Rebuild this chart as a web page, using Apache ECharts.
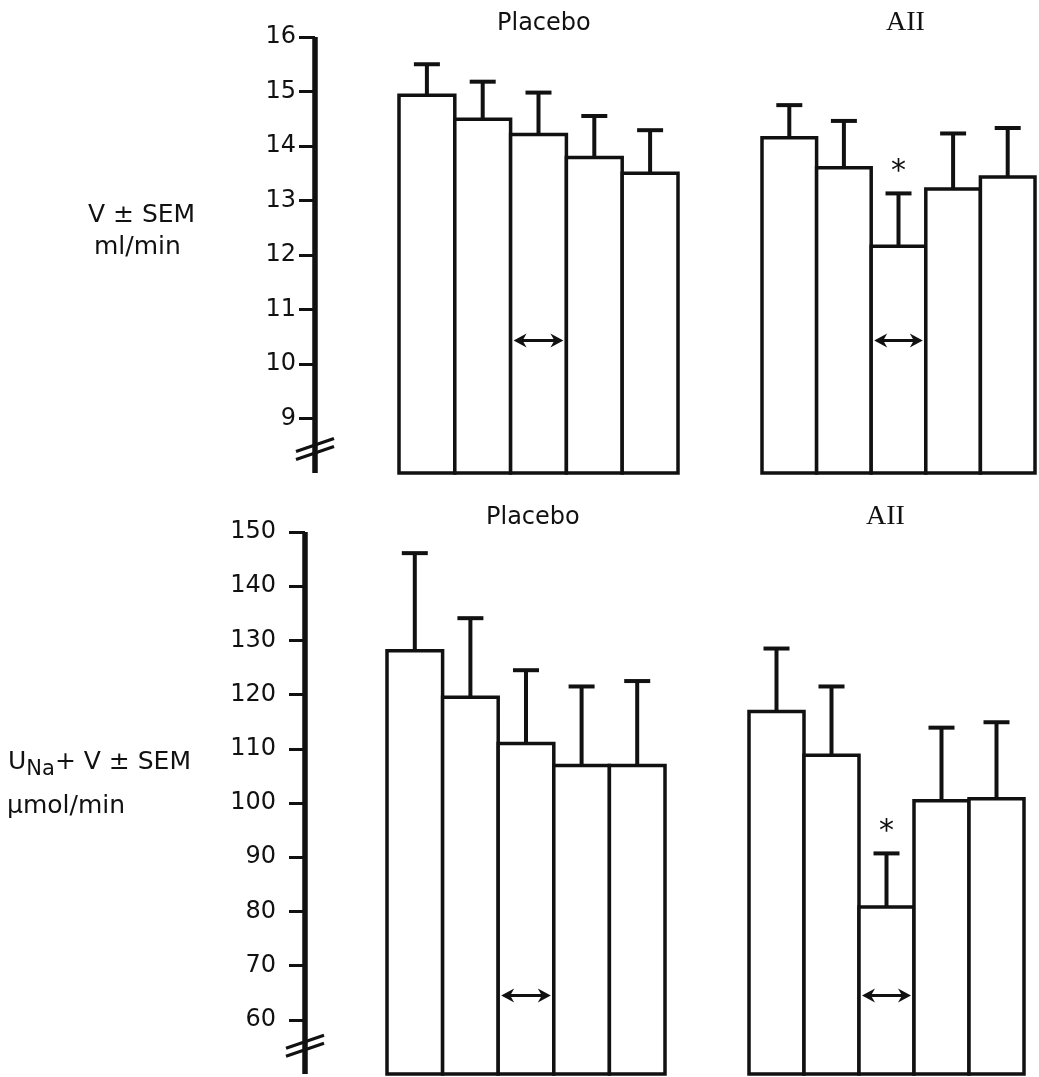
<!DOCTYPE html>
<html>
<head>
<meta charset="utf-8">
<script src="https://cdn.jsdelivr.net/npm/echarts@6/dist/echarts.min.js"></script>
<style>
  html, body { margin: 0; padding: 0; background: #fff; }
  #chart { width: 1039px; height: 1077px; }
</style>
</head>
<body>
<div id="chart"></div>
<script>
// Five consecutive clearance periods per infusion
const periods = ['1', '2', '3', '4', '5'];

// Urine flow V (ml/min), mean and SEM
const vPlacebo    = [14.93, 14.49, 14.21, 13.79, 13.50];
const vPlaceboSem = [0.57, 0.69, 0.77, 0.76, 0.79];
const vAII        = [14.15, 13.60, 12.16, 13.21, 13.43];
const vAIISem     = [0.60, 0.86, 0.97, 1.02, 0.90];

// Sodium excretion UNa·V (µmol/min), mean and SEM
const naPlacebo    = [128.1, 119.5, 111.0, 106.9, 106.9];
const naPlaceboSem = [18.0, 14.6, 13.5, 14.6, 15.6];
const naAII        = [116.9, 108.8, 80.8, 100.4, 100.8];
const naAIISem     = [11.6, 12.7, 9.9, 13.5, 14.1];

// Significant difference from baseline
const sigPlacebo = [0, 0, 0, 0, 0];
const sigAII     = [0, 0, 1, 0, 0];

// Infusion period and the level of its double arrow
const infusionPeriod = 2;
const vArrowLevel  = 10.43;
const naArrowLevel = 64.5;

// Axis ranges and labelled ticks
const vMin = 8,  vMax = 16,  vStep = 1;
const naMin = 50, naMax = 150, naStep = 10;
const vTicks  = [9, 10, 11, 12, 13, 14, 15, 16];
const naTicks = [60, 70, 80, 90, 100, 110, 120, 130, 140, 150];

const groupTitles = ['Placebo', 'AII'];

const INK = '#111';
const LABEL_FONT = 'DejaVu Sans';

// panel geometry: placebo and AII grids of the upper and lower panel
const grids = [
  { left: 399, top: 37,  width: 279, height: 436 },
  { left: 762, top: 37,  width: 273, height: 436 },
  { left: 387, top: 532, width: 278, height: 542 },
  { left: 749, top: 532, width: 275, height: 542 }
];
const axisX = [315, 305];       // x of the drawn value axes (upper, lower)
const labelMargin = [19, 29];   // label distance from each value axis

function mkYAxis(gi, min, max, step, ticks, visible, axisPos, margin) {
  const ax = {
    type: 'value', gridIndex: gi, min: min, max: max, interval: step,
    splitLine: { show: false }
  };
  if (!visible) {
    ax.show = false;
    return ax;
  }
  ax.offset = grids[gi].left - axisPos;
  ax.axisLine = { show: true, onZero: false, lineStyle: { color: INK, width: 5.5, cap: 'butt' } };
  ax.axisTick = { show: true, inside: false, length: 16, customValues: ticks,
                  lineStyle: { color: INK, width: 3 } };
  ax.axisLabel = { show: true, customValues: ticks, margin: margin, color: INK,
                   fontFamily: LABEL_FONT, fontSize: 24 };
  return ax;
}

// open rectangle bar standing on the bottom of its grid
function barItem(params, api) {
  const top = api.coord([api.value(0), api.value(1)]);
  const w = api.size([1, 0])[0];
  const bottom = params.coordSys.y + params.coordSys.height;
  return {
    type: 'rect',
    shape: { x: top[0] - w / 2, y: top[1], width: w, height: bottom - top[1] },
    style: { fill: '#fff', stroke: INK, lineWidth: 3.5 }
  };
}

// upward SEM whisker with cap, and an asterisk for significant periods
function errorBarItem(params, api) {
  const x = api.value(0), m = api.value(1), s = api.value(2), star = api.value(3);
  const base = api.coord([x, m]);
  const tip = api.coord([x, m + s]);
  const capHalf = 13;
  const st = { stroke: INK, lineWidth: 4 };
  const children = [
    { type: 'line', shape: { x1: base[0], y1: base[1], x2: tip[0], y2: tip[1] }, style: st },
    { type: 'line', shape: { x1: tip[0] - capHalf, y1: tip[1], x2: tip[0] + capHalf, y2: tip[1] }, style: st }
  ];
  if (star) {
    children.push({
      type: 'text',
      style: { text: '*', x: tip[0], y: tip[1] - 6, align: 'center', verticalAlign: 'bottom',
               font: '30px "DejaVu Sans"', fill: INK }
    });
  }
  return { type: 'group', children: children };
}

// double-headed arrow spanning the infusion period
function arrowItem(params, api) {
  const c = api.coord([api.value(0), api.value(1)]);
  const half = api.size([1, 0])[0] / 2 - 3;
  const l = c[0] - half, r = c[0] + half, y = c[1];
  const head = 13, hw = 7;
  return {
    type: 'group',
    children: [
      { type: 'line', shape: { x1: l + 5, y1: y, x2: r - 5, y2: y }, style: { stroke: INK, lineWidth: 3 } },
      { type: 'polygon', shape: { points: [[l, y], [l + head, y - hw], [l + head - 4, y], [l + head, y + hw]] },
        style: { fill: INK } },
      { type: 'polygon', shape: { points: [[r, y], [r - head, y - hw], [r - head + 4, y], [r - head, y + hw]] },
        style: { fill: INK } }
    ]
  };
}

function barSeries(gi, values) {
  return {
    type: 'custom', xAxisIndex: gi, yAxisIndex: gi, silent: true, clip: false, z: 2,
    renderItem: barItem,
    encode: { x: 0, y: 1 },
    data: values.map((v, i) => [i, v])
  };
}

function errSeries(gi, mean, sem, sig) {
  return {
    type: 'custom', xAxisIndex: gi, yAxisIndex: gi, silent: true, clip: false, z: 5,
    renderItem: errorBarItem,
    encode: { x: 0, y: 1 },
    data: mean.map((m, i) => [i, m, sem[i], sig[i]])
  };
}

function arrowSeries(gi, level) {
  return {
    type: 'custom', xAxisIndex: gi, yAxisIndex: gi, silent: true, z: 6,
    renderItem: arrowItem,
    encode: { x: 0, y: 1 },
    data: [[infusionPeriod, level]]
  };
}

const chart = echarts.init(document.getElementById('chart'), null, { renderer: 'canvas' });

const CAPTION_FONT = '25px "DejaVu Sans"';

const option = {
  animation: false,
  backgroundColor: '#fff',
  grid: grids.map(g => Object.assign({ outerBoundsMode: 'none', containLabel: false }, g)),
  xAxis: grids.map((g, i) => ({
    type: 'category', gridIndex: i, data: periods, show: false, boundaryGap: true
  })),
  yAxis: [
    mkYAxis(0, vMin, vMax, vStep, vTicks, true, axisX[0], labelMargin[0]),
    mkYAxis(1, vMin, vMax, vStep, vTicks, false),
    mkYAxis(2, naMin, naMax, naStep, naTicks, true, axisX[1], labelMargin[1]),
    mkYAxis(3, naMin, naMax, naStep, naTicks, false)
  ],
  series: [
    barSeries(0, vPlacebo), barSeries(1, vAII),
    barSeries(2, naPlacebo), barSeries(3, naAII),
    errSeries(0, vPlacebo, vPlaceboSem, sigPlacebo),
    errSeries(1, vAII, vAIISem, sigAII),
    errSeries(2, naPlacebo, naPlaceboSem, sigPlacebo),
    errSeries(3, naAII, naAIISem, sigAII),
    arrowSeries(0, vArrowLevel), arrowSeries(1, vArrowLevel),
    arrowSeries(2, naArrowLevel), arrowSeries(3, naArrowLevel)
  ],
  graphic: [
    // group titles
    { type: 'text', left: 497, top: 12, style: { text: groupTitles[0], font: '24px "DejaVu Sans"', fill: INK } },
    { type: 'text', left: 886, top: 9,  style: { text: groupTitles[1], font: '28px "Liberation Serif"', fill: INK } },
    { type: 'text', left: 486, top: 506, style: { text: groupTitles[0], font: '24px "DejaVu Sans"', fill: INK } },
    { type: 'text', left: 866, top: 503, style: { text: groupTitles[1], font: '28px "Liberation Serif"', fill: INK } },
    // value axis captions
    { type: 'text', left: 88, top: 203, style: { text: 'V ± SEM', font: CAPTION_FONT, fill: INK } },
    { type: 'text', left: 94, top: 235, style: { text: 'ml/min', font: CAPTION_FONT, fill: INK } },
    { type: 'text', left: 8, top: 750, style: {
        text: 'U{sub|Na}+ V ± SEM', font: CAPTION_FONT, fill: INK,
        rich: { sub: { fontSize: 21, fontFamily: LABEL_FONT, verticalAlign: 'bottom', padding: [15, 0, 0, 0], fill: INK } }
      } },
    { type: 'text', left: 7, top: 794, style: { text: 'µmol/min', font: CAPTION_FONT, fill: INK } }
  ]
};

chart.setOption(option);

// axis break marks, placed on each value axis between the lowest tick and the base
function breakMark(id, x, y) {
  const st = { stroke: INK, lineWidth: 3 };
  return [
    { id: id + 'a', type: 'line', shape: { x1: x - 19, y1: y - 1, x2: x + 19, y2: y - 14 }, style: st, z: 20 },
    { id: id + 'b', type: 'line', shape: { x1: x - 19, y1: y + 7, x2: x + 19, y2: y - 6 }, style: st, z: 20 }
  ];
}
const yTopBreak = chart.convertToPixel({ yAxisIndex: 0 }, 8.45);
const yBotBreak = chart.convertToPixel({ yAxisIndex: 2 }, 55.3);
chart.setOption({
  graphic: breakMark('brkTop', axisX[0], yTopBreak + 4).concat(breakMark('brkBot', axisX[1], yBotBreak + 4))
});
</script>
</body>
</html>
